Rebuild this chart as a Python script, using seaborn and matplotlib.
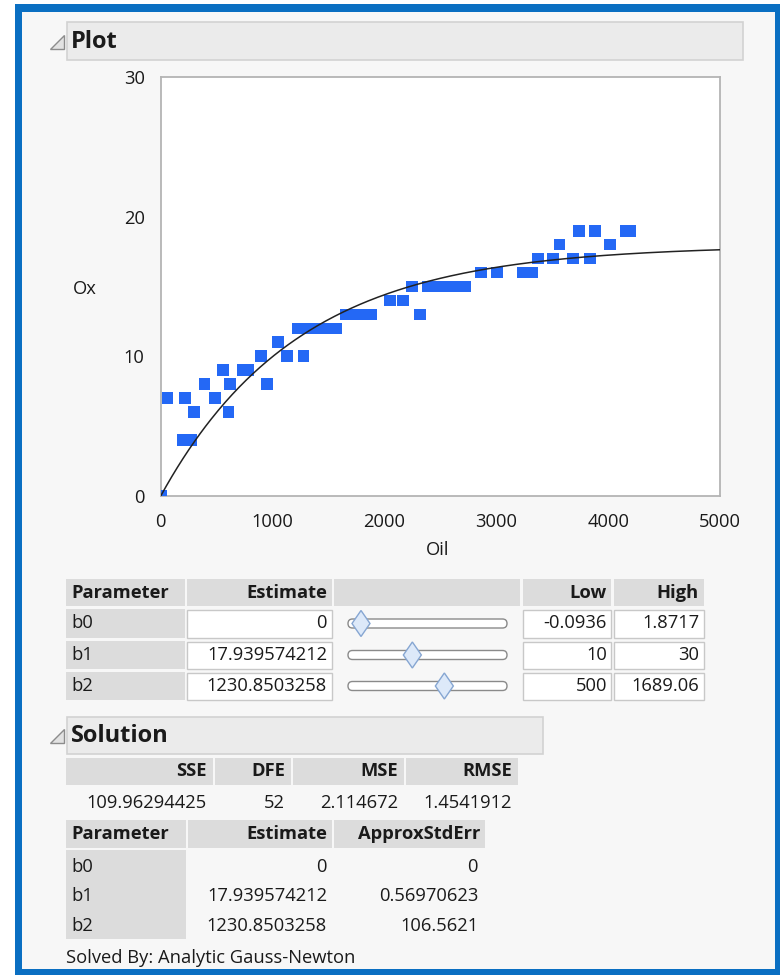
import numpy as np
import pandas as pd
import matplotlib
matplotlib.use("Agg")
import matplotlib.pyplot as plt
from matplotlib.patches import Rectangle, Polygon, FancyBboxPatch
from matplotlib.ticker import MultipleLocator
import seaborn as sns

# ---------------- data ----------------
oil = [0, 60, 194, 218, 269, 299, 391, 487, 556, 607, 622, 732, 777, 897, 947,
       1046, 1127, 1276, 1230, 1320, 1400, 1480, 1570, 1660, 1740, 1810, 1880,
       2047, 2167, 2248, 2316, 2390, 2500, 2570, 2670, 2725, 2864, 3004, 3240,
       3320, 3372, 3507, 3566, 3686, 3736, 3841, 3880, 4014, 4155, 4200]
ox = [0, 7, 4, 7, 4, 6, 8, 7, 9, 6, 8, 9, 9, 10, 8,
      11, 10, 10, 12, 12, 12, 12, 12, 13, 13, 13, 13,
      14, 14, 15, 13, 15, 15, 15, 15, 15, 16, 16, 16,
      16, 17, 17, 18, 17, 19, 17, 19, 18, 19, 19]

param_names = ["b0", "b1", "b2"]
estimates = [0.0, 17.939574212, 1230.8503258]
estimate_txt = ["0", "17.939574212", "1230.8503258"]
low_vals = [-0.0936, 10, 500]
high_vals = [1.8717, 30, 1689.06]
low_txt = ["-0.0936", "10", "500"]
high_txt = ["1.8717", "30", "1689.06"]
stderr_txt = ["0", "0.56970623", "106.5621"]

sol_headers = ["SSE", "DFE", "MSE", "RMSE"]
sol_values = ["109.96294425", "52", "2.114672", "1.4541912"]

x_ticks = [0, 1000, 2000, 3000, 4000, 5000]
y_ticks = [0, 10, 20, 30]

# ---------------- style ----------------
sns.set_theme(style="white")
plt.rcParams["font.family"] = ["Open Sans", "DejaVu Sans"]

W, H = 780, 975
fig = plt.figure(figsize=(W / 100, H / 100), dpi=100)
fig.patch.set_facecolor("white")

bg = fig.add_axes([0, 0, 1, 1], zorder=0)
bg.set_xlim(0, W)
bg.set_ylim(H, 0)
bg.axis("off")

FS = 13.2
TXT = "#1a1a1a"
HDR = "#dcdcdc"
PANEL = "#f7f7f7"
EDGE = "#c8c8c8"


def rect(x0, y0, x1, y1, fc, ec="none", lw=1.0, z=1):
    bg.add_patch(Rectangle((x0, y0), x1 - x0, y1 - y0, facecolor=fc,
                           edgecolor=ec, linewidth=lw, zorder=z))


def txt(x, y, s, ha="left", bold=False, size=FS, color=TXT):
    bg.text(x, y, s, ha=ha, va="center", fontsize=size, color=color,
            fontweight="bold" if bold else "normal", zorder=5)


# outer blue frame + panel
rect(15, 4, W, H, "#0a6fc2")
rect(22, 12, 775, 969, PANEL)

# section headers
def section(y0, y1, x1, label, ty):
    rect(67, y0, x1, y1, "#ebebeb", ec="#d2d2d2", lw=1.2, z=2)
    tri = Polygon([(50, ty + 7), (64, ty + 7), (64, ty - 7)], closed=True,
                  facecolor="#e2e2e2", edgecolor="#8c8c8c", lw=1.0, zorder=3)
    bg.add_patch(tri)
    txt(71, ty, label, bold=True, size=17)

section(22, 60, 743, "Plot", 42)
section(717, 754, 543, "Solution", 736)

# ---------------- main plot ----------------
L, R, T, B = 160.7, 720, 77, 496
ax = fig.add_axes([L / W, 1 - B / H, (R - L) / W, (B - T) / H], zorder=2)
ax.set_facecolor("white")

df = pd.DataFrame({"Oil": oil, "Ox": ox})
sns.scatterplot(data=df, x="Oil", y="Ox", marker="s", s=72, color="#2468f5",
                edgecolor="none", linewidth=0, ax=ax, zorder=3)

b0, b1, b2 = estimates
xc = np.linspace(0, 5000, 400)
curve = pd.DataFrame({"Oil": xc, "Ox": b0 + b1 * (1 - np.exp(-xc / b2))})
sns.lineplot(data=curve, x="Oil", y="Ox", color="#222222", lw=1.1, ax=ax,
             zorder=4)

ax.set_xlim(0, 5000)
ax.set_ylim(0, 30)
ax.set_xticks(x_ticks)
ax.set_yticks(y_ticks)
ax.xaxis.set_minor_locator(MultipleLocator(500))
ax.tick_params(axis="both", which="major", direction="out", length=7.5,
               width=1.0, color="#b0b0b0", labelsize=FS, labelcolor=TXT, pad=4)
ax.tick_params(axis="x", which="minor", direction="out", length=4,
               width=1.0, color="#b0b0b0")
ax.tick_params(axis="x", which="major", pad=5)
for sp in ax.spines.values():
    sp.set_color("#b4b4b4")
    sp.set_linewidth(1.3)
    sp.set_visible(True)
ax.set_xlabel("")
ax.set_ylabel("")
txt(438, 550, "Oil", ha="center")
txt(73, 289, "Ox", ha="left")

# ---------------- parameter table with sliders ----------------
rect(66, 579, 185, 606, HDR)
rect(187, 579, 332, 606, HDR)
rect(334, 579, 520, 606, HDR)
rect(523, 579, 611, 606, HDR)
rect(614, 579, 704, 606, HDR)
txt(71, 593, "Parameter", bold=True)
txt(327, 593, "Estimate", ha="right", bold=True)
txt(607, 593, "Low", ha="right", bold=True)
txt(699, 593, "High", ha="right", bold=True)

rows = [(609, 638), (641, 669), (672, 700)]
track_x0, track_x1 = 348, 507
for i, (y0, y1) in enumerate(rows):
    yc = (y0 + y1) / 2
    rect(66, y0, 185, y1, HDR)
    txt(71, yc, param_names[i])
    rect(187, y0 + 1, 332, y1, "white", ec=EDGE, lw=1.0)
    txt(327, yc, estimate_txt[i], ha="right")
    rect(523, y0 + 1, 611, y1, "white", ec=EDGE, lw=1.0)
    txt(607, yc, low_txt[i], ha="right")
    rect(614, y0 + 1, 704, y1, "white", ec=EDGE, lw=1.0)
    txt(699, yc, high_txt[i], ha="right")
    # slider track
    bg.add_patch(FancyBboxPatch((track_x0, yc - 4.5), track_x1 - track_x0, 9,
                                boxstyle="round,pad=0,rounding_size=4.5",
                                facecolor="white", edgecolor="#8a8a8a",
                                lw=1.0, zorder=3))
    frac = (estimates[i] - low_vals[i]) / (high_vals[i] - low_vals[i])
    hx = track_x0 + 6 + frac * (track_x1 - track_x0 - 12)
    bg.add_patch(Polygon([(hx - 9, yc), (hx, yc - 13), (hx + 9, yc),
                          (hx, yc + 13)], closed=True, facecolor="#dde9f9",
                         edgecolor="#86a6d2", lw=1.0, zorder=4))

# ---------------- solution tables ----------------
sol_cols = [(66, 213), (215, 291), (293, 404), (406, 518)]
for (x0, x1), h, v in zip(sol_cols, sol_headers, sol_values):
    rect(x0, 758, x1, 785, HDR)
    txt(x1 - 6, 771.5, h, ha="right", bold=True)
    txt(x1 - 6, 803, v, ha="right")

rect(66, 820, 186, 848, HDR)
rect(188, 820, 332, 848, HDR)
rect(334, 820, 485, 848, HDR)
txt(71, 834, "Parameter", bold=True)
txt(327, 834, "Estimate", ha="right", bold=True)
txt(480, 834, "ApproxStdErr", ha="right", bold=True)
rect(66, 850, 186, 939, HDR)
for i, yc in enumerate([867, 896, 926]):
    txt(71, yc, param_names[i])
    txt(327, yc, estimate_txt[i], ha="right")
    txt(478, yc, stderr_txt[i], ha="right")

txt(66, 958, "Solved By: Analytic Gauss-Newton")

fig.savefig("out.png", dpi=100, facecolor="white")
